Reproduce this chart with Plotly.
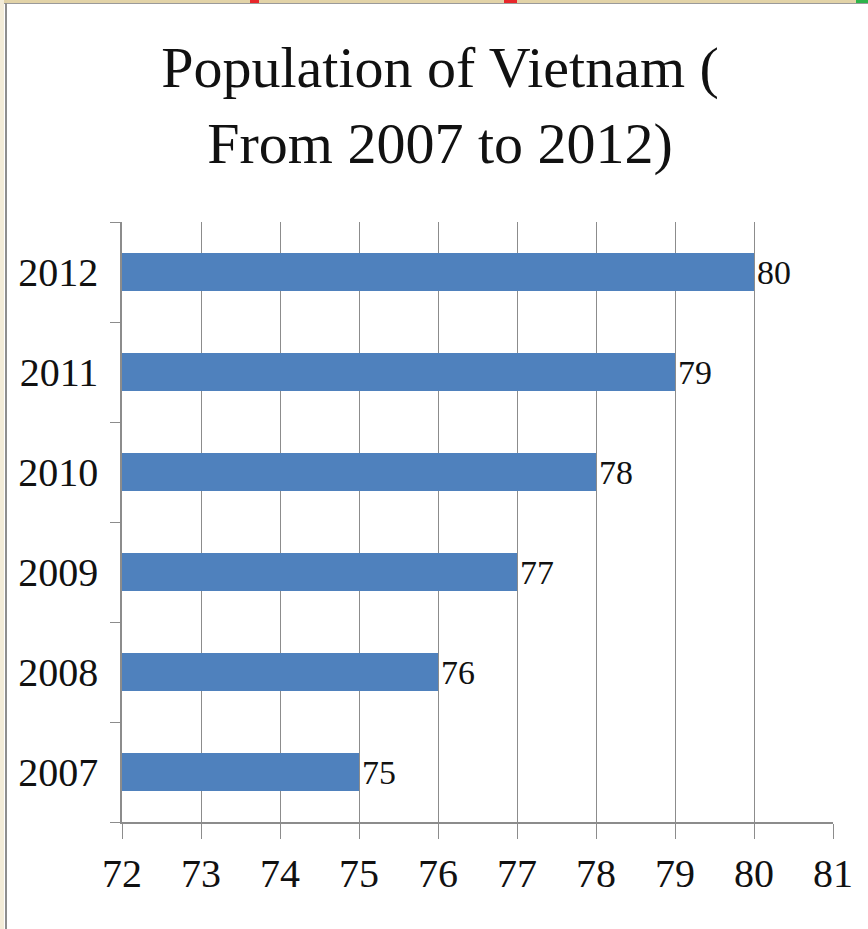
import plotly.graph_objects as go

# Population of Vietnam, millions
years = ["2007", "2008", "2009", "2010", "2011", "2012"]
population = [75, 76, 77, 78, 79, 80]
x_ticks = [72, 73, 74, 75, 76, 77, 78, 79, 80, 81]

W, H = 868, 929
L, R, T, B = 122, 35, 222, 107
FONT = "Liberation Serif"
BLUE = "#4F81BD"
GRID = "#8C8C8C"


def px_x(p):
    return (p - L) / (W - L - R)


def px_y(p):
    return 1 - (p - T) / (H - T - B)


fig = go.Figure(
    go.Bar(
        x=population,
        y=years,
        orientation="h",
        marker=dict(color=BLUE, line=dict(width=0)),
        text=[str(v) for v in population],
        textposition="outside",
        textfont=dict(family=FONT, size=41, color="#111111"),
        cliponaxis=False,
        hoverinfo="skip",
    )
)

# window frame around the chart
frame = [
    dict(x0=px_x(0), x1=px_x(W), y0=px_y(0), y1=px_y(3), color="#E2D3A8"),
    dict(x0=px_x(0), x1=px_x(W), y0=px_y(3), y1=px_y(4), color="#9A9A9A"),
    dict(x0=px_x(0), x1=px_x(4), y0=px_y(0), y1=px_y(H), color="#F3ECD8"),
    dict(x0=px_x(5), x1=px_x(7), y0=px_y(3), y1=px_y(H), color="#8E8E8E"),
    dict(x0=px_x(250), x1=px_x(259), y0=px_y(0), y1=px_y(3), color="#E8262A"),
    dict(x0=px_x(504), x1=px_x(517), y0=px_y(0), y1=px_y(3), color="#E8262A"),
    dict(x0=px_x(856), x1=px_x(W), y0=px_y(0), y1=px_y(3), color="#2DB34A"),
]
shapes = [
    dict(type="rect", xref="paper", yref="paper", x0=f["x0"], x1=f["x1"],
         y0=f["y0"], y1=f["y1"], fillcolor=f["color"], line=dict(width=0),
         layer="above")
    for f in frame
]

fig.update_layout(
    width=W,
    height=H,
    margin=dict(l=L, r=R, t=T, b=B, pad=0, autoexpand=False),
    paper_bgcolor="white",
    plot_bgcolor="white",
    showlegend=False,
    bargap=0.62,
    shapes=shapes,
    title=dict(
        text="Population of Vietnam (<br>From 2007 to 2012)",
        font=dict(family=FONT, size=58, color="#111111"),
        x=0.507,
        xanchor="center",
        xref="container",
        y=0.906,
        yanchor="top",
        yref="container",
    ),
    xaxis=dict(
        range=[72, 81],
        tickvals=x_ticks,
        ticktext=[str(t) for t in x_ticks],
        showgrid=True,
        gridcolor=GRID,
        gridwidth=1,
        showline=True,
        linecolor=GRID,
        linewidth=1.5,
        ticks="outside",
        ticklen=15,
        tickcolor=GRID,
        tickwidth=1,
        tickfont=dict(family=FONT, size=40, color="#111111"),
        zeroline=False,
        automargin=False,
        fixedrange=True,
    ),
    yaxis=dict(
        type="category",
        categoryorder="array",
        categoryarray=years,
        tickson="boundaries",
        showgrid=False,
        showline=True,
        linecolor=GRID,
        linewidth=1.5,
        ticks="outside",
        ticklen=10,
        tickcolor=GRID,
        tickwidth=1,
        ticklabelstandoff=14,
        tickfont=dict(family=FONT, size=40, color="#111111"),
        automargin=False,
        fixedrange=True,
    ),
)

fig.write_html("out.html")
